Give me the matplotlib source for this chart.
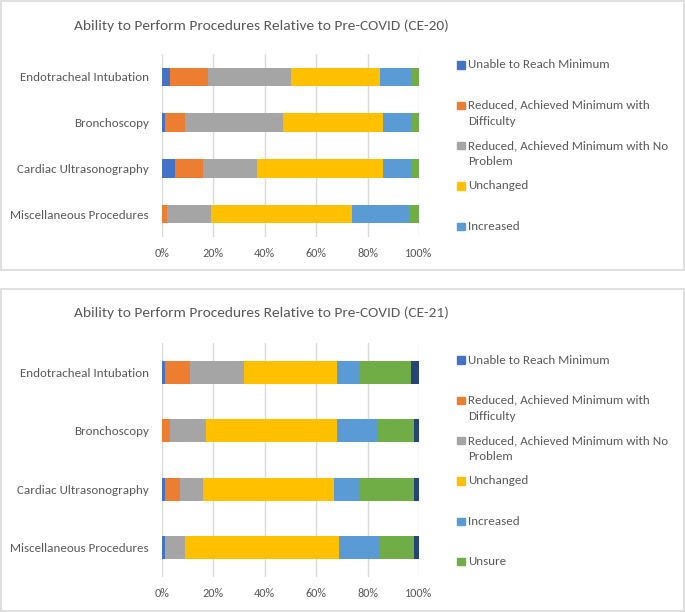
import matplotlib
matplotlib.use("Agg")
import matplotlib.pyplot as plt
from matplotlib.patches import Rectangle
from matplotlib import font_manager

categories = ["Endotracheal Intubation", "Bronchoscopy", "Cardiac Ultrasonography", "Miscellaneous Procedures"]
series_names = ["Unable to Reach Minimum",
                "Reduced, Achieved Minimum with Difficulty",
                "Reduced, Achieved Minimum with No Problem",
                "Unchanged", "Increased", "Unsure", "Other"]
legend_lines = [["Unable to Reach Minimum"],
                ["Reduced, Achieved Minimum with", "Difficulty"],
                ["Reduced, Achieved Minimum with No", "Problem"],
                ["Unchanged"], ["Increased"], ["Unsure"]]
colors = ["#4472C4", "#ED7D31", "#A5A5A5", "#FFC000", "#5B9BD5", "#70AD47", "#264478"]

# CE-20 values (%), per series, in category order
ce20 = {
    "Unable to Reach Minimum": [3, 1, 5, 0],
    "Reduced, Achieved Minimum with Difficulty": [15, 8, 11, 2],
    "Reduced, Achieved Minimum with No Problem": [32, 38, 21, 17],
    "Unchanged": [35, 39, 49, 55],
    "Increased": [12, 11, 11, 22],
    "Unsure": [3, 3, 3, 4],
}
# CE-21 values (%)
ce21 = {
    "Unable to Reach Minimum": [1, 0, 1, 1],
    "Reduced, Achieved Minimum with Difficulty": [10, 3, 6, 0],
    "Reduced, Achieved Minimum with No Problem": [21, 14, 9, 8],
    "Unchanged": [36, 51, 51, 60],
    "Increased": [9, 16, 10, 16],
    "Unsure": [20, 14, 21, 13],
    "Other": [3, 2, 2, 2],
}
xticks = [0, 20, 40, 60, 80, 100]
xticklabels = ["0%", "20%", "40%", "60%", "80%", "100%"]

W, H = 685, 612
TXT = "#595959"
names = {f.name for f in font_manager.fontManager.ttflist}
FONT = "Lato"
for cand in ["Carlito", "Liberation Sans Narrow", "Roboto Condensed", "Lato"]:
    if cand in names:
        FONT = cand
        break
plt.rcParams["font.family"] = [FONT, "DejaVu Sans"]

fig = plt.figure(figsize=(W / 100, H / 100), dpi=100)
renderer = fig.canvas.get_renderer()

def fit_size(text, target_px, base=10.0):
    t = fig.text(0, 0, text, fontsize=base)
    w = t.get_window_extent(renderer=renderer).width
    t.remove()
    return base * target_px / w

title_fs = fit_size("Ability to Perform Procedures Relative to Pre-COVID (CE-20)", 376)
ytick_fs = fit_size("Miscellaneous Procedures", 138)
leg_fs = fit_size("Reduced, Achieved Minimum with No", 201)
xtick_fs = fit_size("100%", 27.5)

def fx(px):
    return px / W

def fy(py):
    return 1 - py / H

# panel borders
for top, bot in [(1, 270), (289, 611)]:
    fig.add_artist(Rectangle((fx(0.5), fy(bot)), fx(683), (bot - top) / H,
                             transform=fig.transFigure, fill=False,
                             edgecolor="#D9D9D9", lw=1.2))

def draw(ax, data, nseries):
    y = list(range(len(categories)))
    left = [0] * len(categories)
    for i in range(nseries):
        name = series_names[i]
        vals = data[name]
        ax.barh(y, vals, left=left, height=0.4, color=colors[i], zorder=3)
        left = [a + b for a, b in zip(left, vals)]
    ax.set_yticks(y)
    ax.set_yticklabels(categories, color=TXT, fontsize=ytick_fs)
    ax.set_ylim(len(categories) - 0.5, -0.5)
    ax.set_xlim(0, 100)
    ax.set_xticks(xticks)
    ax.set_xticklabels(xticklabels, color=TXT, fontsize=xtick_fs)
    ax.tick_params(length=0)
    ax.tick_params(axis="y", pad=9.5)
    ax.tick_params(axis="x", pad=8)
    ax.grid(axis="x", color="#D9D9D9", lw=1, zorder=0)
    for s in ax.spines.values():
        s.set_visible(False)

ax1 = fig.add_axes([fx(162), fy(237), fx(419) - fx(162), (237 - 54) / H])
draw(ax1, ce20, 6)
ax2 = fig.add_axes([fx(162), fy(577), fx(419) - fx(162), (577 - 343) / H])
draw(ax2, ce21, 7)

fig.text(fx(261), fy(25.5), "Ability to Perform Procedures Relative to Pre-COVID (CE-20)",
         ha="center", va="center", color=TXT, fontsize=title_fs)
fig.text(fx(261), fy(313), "Ability to Perform Procedures Relative to Pre-COVID (CE-21)",
         ha="center", va="center", color=TXT, fontsize=title_fs)

def legend(y0, n):
    for i in range(n):
        yy = y0 + 40.3 * i
        fig.add_artist(Rectangle((fx(457), fy(yy + 3.8)), fx(7.5), 7.5 / H,
                                 transform=fig.transFigure, color=colors[i]))
        for j, line in enumerate(legend_lines[i]):
            fig.text(fx(468), fy(yy + 16 * j), line, ha="left", va="center",
                     color=TXT, fontsize=leg_fs)

legend(65, 5)
legend(360, 6)

fig.savefig("out.png", dpi=100, facecolor="white")
